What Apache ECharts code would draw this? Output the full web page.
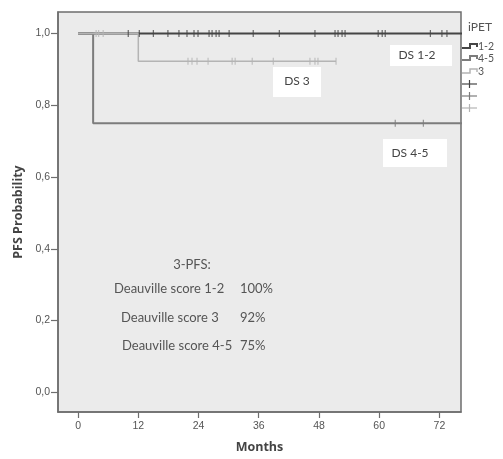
<!DOCTYPE html>
<html>
<head>
<meta charset="utf-8">
<script src="https://cdn.jsdelivr.net/npm/echarts@6/dist/echarts.min.js"></script>
<style>html,body{margin:0;padding:0;background:#fff}#c{width:503px;height:459px}</style>
</head>
<body>
<div id="c"></div>
<script>
// ---- data ----
const xTicks = [0, 12, 24, 36, 48, 60, 72];
const yTicks = [0, 0.2, 0.4, 0.6, 0.8, 1.0];
const yTickLabels = ['0,0', '0,2', '0,4', '0,6', '0,8', '1,0'];
// Kaplan-Meier steps: [time (months), survival after that time]
const ds12Steps = [[0, 1.0], [80, 1.0]];
const ds3Steps = [[0, 1.0], [12, 0.923], [51.4, 0.923]];
const ds45Steps = [[0, 1.0], [3, 0.75], [80, 0.75]];
// censored times
const ds12Censor = [10.0, 12.2, 15.0, 17.9, 20.1, 21.7, 23.1, 23.9, 26.1, 26.7, 27.5, 28.1, 30.1, 34.9, 40.1, 47.2, 51.2, 51.8, 52.6, 53.2, 59.8, 60.6, 61.2, 70.2, 72.5, 73.5];
const ds3CensorEarly = [3.6, 4.1, 5.0];
const ds3Censor = [21.9, 22.7, 23.7, 25.9, 30.7, 31.3, 34.7, 38.9, 46.2, 47.2, 47.8, 51.4];
const ds45Censor = [63.2, 68.8];
const legendNames = ['1-2', '4-5', '3'];
const summaryTitle = '3-PFS:';
const summaryLabels = ['Deauville score 1-2', 'Deauville score 3', 'Deauville score 4-5'];
const summaryValues = ['100%', '92%', '75%'];

function km(steps) {
  const pts = [];
  for (let i = 0; i < steps.length; i++) {
    if (i > 0) pts.push([steps[i][0], steps[i - 1][1]]);
    pts.push([steps[i][0], steps[i][1]]);
  }
  return pts;
}
function survAt(steps, t) {
  let s = steps[0][1];
  for (const p of steps) if (p[0] <= t) s = p[1];
  return s;
}
function censorPts(steps, times) { return times.map(t => [t, survAt(steps, t)]); }

const C12 = '#454545', C45 = '#7c7c7c', C3 = '#b4b4b4';
const lblFont = 'Lato, "Open Sans", sans-serif';

function lineSeries(name, data, color, width, z) {
  return { name, type: 'line', data, symbol: 'none', silent: true, z,
    lineStyle: { color, width }, animation: false };
}
function censorSeries(data, color, z) {
  return { type: 'scatter', data, symbol: 'rect', symbolSize: [1.2, 7], z,
    itemStyle: { color }, silent: true, animation: false };
}

const chart = echarts.init(document.getElementById('c'), null, { renderer: 'canvas' });

const graphic = [];
function box(x, y, w, h, text, tx, ty) {
  graphic.push({ type: 'rect', shape: { x, y, width: w, height: h }, style: { fill: '#ffffff' }, z: 10 });
  graphic.push({ type: 'text', x: tx, y: ty, style: { text, font: '12px ' + lblFont, fill: '#444',
    align: 'center', verticalAlign: 'middle', textAlign: 'center', textVerticalAlign: 'middle' }, z: 11 });
}
box(390, 45, 62, 21, 'DS 1-2', 417, 55);
box(273, 67, 48, 30, 'DS 3', 297, 81);
box(383, 139, 64, 28, 'DS 4-5', 410, 153);

function txt(text, x, y, align, size, color, weight) {
  graphic.push({ type: 'text', x, y, style: { text, font: (weight || 'normal') + ' ' + size + 'px ' + lblFont,
    fill: color, align, verticalAlign: 'middle', textAlign: align, textVerticalAlign: 'middle' }, z: 11 });
}
txt(summaryTitle, 192, 265, 'center', 13, '#555');
const sumX = [114, 121, 122], sumY = [289, 318, 346];
summaryLabels.forEach((s, i) => { txt(s, sumX[i], sumY[i], 'left', 13, '#555'); txt(summaryValues[i], 240, sumY[i], 'left', 13, '#555'); });

// legend
txt('iPET', 480, 27, 'center', 12, '#555');
const legY = [46, 58, 71], legC = [C12, C45, C3], legW = [2, 2, 1.5];
legendNames.forEach((n, i) => {
  const y = legY[i];
  graphic.push({ type: 'polyline', shape: { points: [[462, y + 2], [470, y + 2], [470, y - 2], [477, y - 2], [477, y + 1]] },
    style: { stroke: legC[i], lineWidth: legW[i], fill: null }, z: 11 });
  txt(n, 478, y + 1, 'left', 10.5, '#555');
});
[84, 96, 108].forEach((y, i) => {
  graphic.push({ type: 'line', shape: { x1: 462, y1: y, x2: 477, y2: y }, style: { stroke: legC[i], lineWidth: 1.2 }, z: 11 });
  graphic.push({ type: 'line', shape: { x1: 469.5, y1: y - 4, x2: 469.5, y2: y + 4 }, style: { stroke: legC[i], lineWidth: 1.2 }, z: 11 });
});

chart.setOption({
  animation: false,
  backgroundColor: '#ffffff',
  grid: { left: 58, right: 42, top: 12, bottom: 42, show: true, backgroundColor: '#ebebeb', borderColor: '#6e6e6e', borderWidth: 1.5 },
  xAxis: {
    type: 'value', min: -4, max: 76.3,
    name: 'Months', nameLocation: 'middle', nameGap: 29,
    nameTextStyle: { fontFamily: '"Open Sans", sans-serif', fontWeight: 'bold', fontSize: 12.5, color: '#444' },
    axisLine: { onZero: false, lineStyle: { color: '#6e6e6e', width: 1.5 } },
    axisTick: { show: true, length: 6, customValues: xTicks, lineStyle: { color: '#6e6e6e', width: 1.2 } },
    axisLabel: { customValues: xTicks, margin: 9, color: '#555', fontSize: 10.5, fontFamily: '"Liberation Sans", Arial, sans-serif' },
    splitLine: { show: false }
  },
  yAxis: {
    type: 'value', min: -0.055, max: 1.06,
    name: 'PFS Probability', nameLocation: 'middle', nameGap: 31, nameRotate: 90,
    nameTextStyle: { fontFamily: '"Open Sans", sans-serif', fontWeight: 'bold', fontSize: 12.5, color: '#444' },
    axisLine: { onZero: false, lineStyle: { color: '#6e6e6e', width: 1.5 } },
    axisTick: { show: true, length: 7, customValues: yTicks, lineStyle: { color: '#6e6e6e', width: 1.2 } },
    axisLabel: { customValues: yTicks, margin: 8, color: '#555', fontSize: 10.5, fontFamily: '"Liberation Sans", Arial, sans-serif',
      formatter: v => { const i = yTicks.findIndex(t => Math.abs(t - v) < 1e-6); return i >= 0 ? yTickLabels[i] : ''; } },
    splitLine: { show: false }
  },
  series: [
    lineSeries('1-2', km(ds12Steps), C12, 2, 2),
    lineSeries('4-5', km(ds45Steps), C45, 2, 3),
    lineSeries('3', km(ds3Steps), C3, 1.5, 4),
    censorSeries(censorPts(ds3Steps, ds3CensorEarly), C3, 5),
    censorSeries(censorPts(ds3Steps, ds3Censor), C3, 5),
    censorSeries(censorPts(ds45Steps, ds45Censor), C45, 5),
    censorSeries(censorPts(ds12Steps, ds12Censor), C12, 6)
  ],
  graphic
});
</script>
</body>
</html>
